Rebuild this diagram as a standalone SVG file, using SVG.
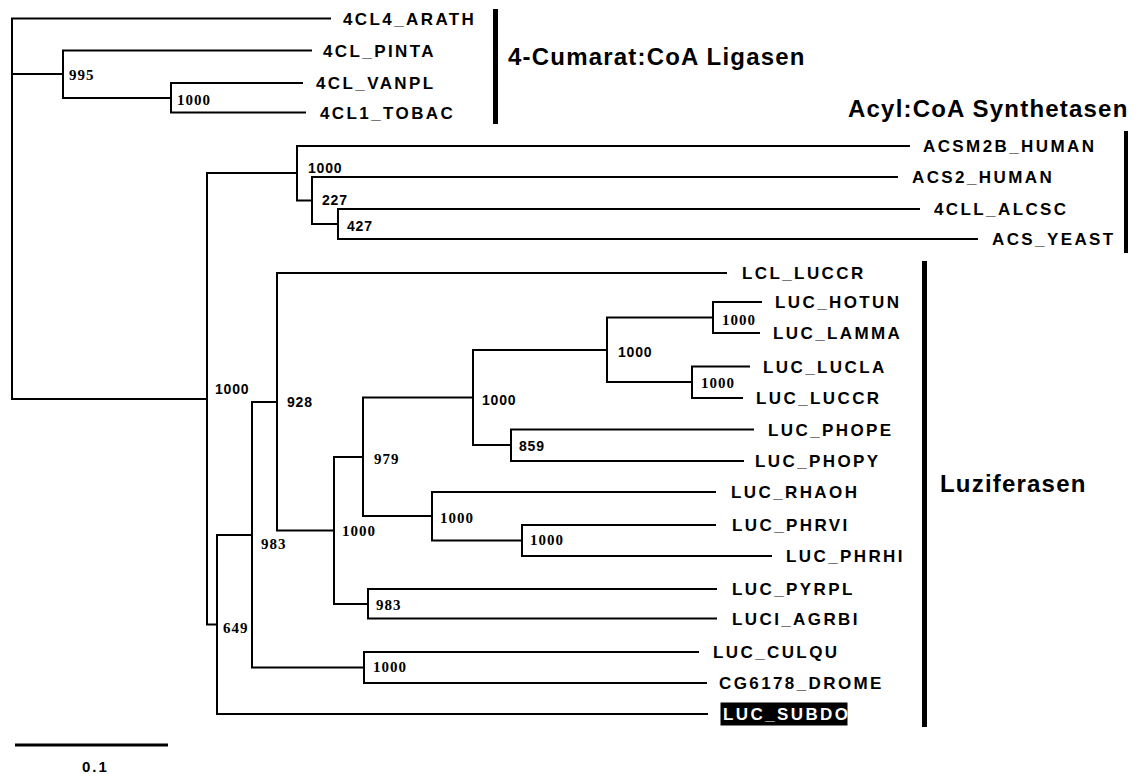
<svg xmlns="http://www.w3.org/2000/svg" width="1136" height="774" viewBox="0 0 1136 774">
<style>
.br{fill:none;stroke:#000;stroke-width:2;stroke-linecap:square}
.leaf{font-family:"Liberation Sans",Arial,sans-serif;font-weight:bold;font-size:17px;letter-spacing:2.4px;fill:#000}
.bs{font-family:"Liberation Sans",Arial,sans-serif;font-weight:bold;font-size:14px;letter-spacing:0.8px;fill:#000}
.bt{font-family:"Liberation Serif","Times New Roman",serif;font-weight:bold;font-size:15px;letter-spacing:1px;fill:#000}
.head{font-family:"Liberation Sans",Arial,sans-serif;font-weight:bold;font-size:24px;letter-spacing:1.2px;fill:#000}
.bar{fill:#000}
</style>
<rect width="1136" height="774" fill="#fff"/>
<g id="connectors" class="br">
<path d="M12 18.5V399M12 18.5H330M12 74H63M12 399H207"/>
<path d="M63 50.5V98M63 50.5H311M63 98H171"/>
<path d="M171 83V112.5M171 83H302M171 112.5H305"/>
<path d="M207 173V624.5M207 173H297M207 624.5H217"/>
<path d="M297 146V200.5M297 146H909M297 200.5H312"/>
<path d="M312 177V224M312 177H897M312 224H338"/>
<path d="M338 209V239M338 209H919M338 239H977"/>
<path d="M217 535V714M217 535H252M217 714H707"/>
<path d="M252 402V667.5M252 402H277M252 667.5H364"/>
<path d="M277 273V530.5M277 273H726M277 530.5H334"/>
<path d="M334 457V604M334 457H363M334 604H368"/>
<path d="M363 397.5V516M363 397.5H473M363 516H432"/>
<path d="M473 350V445M473 350H607M473 445H511"/>
<path d="M607 317.5V382M607 317.5H713M607 382H692"/>
<path d="M713 302V333M713 302H761M713 333H759"/>
<path d="M692 366.5V398M692 366.5H749M692 398H742"/>
<path d="M511 429.5V461M511 429.5H753M511 461H743"/>
<path d="M432 492V540.5M432 492H715M432 540.5H522"/>
<path d="M522 525V556M522 525H715M522 556H771"/>
<path d="M368 589V618.5M368 589H716M368 618.5H716"/>
<path d="M364 652V683M364 652H698M364 683H706"/>
</g>
<g id="leaf-4CL4_ARATH"><text class="leaf" x="343" y="24.5">4CL4_ARATH</text></g>
<g id="leaf-4CL_PINTA"><text class="leaf" x="323" y="56.5">4CL_PINTA</text></g>
<g id="leaf-4CL_VANPL"><text class="leaf" x="316" y="89">4CL_VANPL</text></g>
<g id="leaf-4CL1_TOBAC"><text class="leaf" x="320" y="118.5">4CL1_TOBAC</text></g>
<g id="leaf-ACSM2B_HUMAN"><text class="leaf" x="923" y="152">ACSM2B_HUMAN</text></g>
<g id="leaf-ACS2_HUMAN"><text class="leaf" x="912" y="183">ACS2_HUMAN</text></g>
<g id="leaf-4CLL_ALCSC"><text class="leaf" x="934" y="215">4CLL_ALCSC</text></g>
<g id="leaf-ACS_YEAST"><text class="leaf" x="992" y="245">ACS_YEAST</text></g>
<g id="leaf-LCL_LUCCR"><text class="leaf" x="742" y="279">LCL_LUCCR</text></g>
<g id="leaf-LUC_HOTUN"><text class="leaf" x="775" y="308">LUC_HOTUN</text></g>
<g id="leaf-LUC_LAMMA"><text class="leaf" x="773" y="339">LUC_LAMMA</text></g>
<g id="leaf-LUC_LUCLA"><text class="leaf" x="763" y="372.5">LUC_LUCLA</text></g>
<g id="leaf-LUC_LUCCR"><text class="leaf" x="756" y="404">LUC_LUCCR</text></g>
<g id="leaf-LUC_PHOPE"><text class="leaf" x="768" y="435.5">LUC_PHOPE</text></g>
<g id="leaf-LUC_PHOPY"><text class="leaf" x="755" y="467">LUC_PHOPY</text></g>
<g id="leaf-LUC_RHAOH"><text class="leaf" x="731" y="498">LUC_RHAOH</text></g>
<g id="leaf-LUC_PHRVI"><text class="leaf" x="732" y="531">LUC_PHRVI</text></g>
<g id="leaf-LUC_PHRHI"><text class="leaf" x="786" y="562">LUC_PHRHI</text></g>
<g id="leaf-LUC_PYRPL"><text class="leaf" x="732" y="595">LUC_PYRPL</text></g>
<g id="leaf-LUCI_AGRBI"><text class="leaf" x="732" y="624.5">LUCI_AGRBI</text></g>
<g id="leaf-LUC_CULQU"><text class="leaf" x="713" y="658">LUC_CULQU</text></g>
<g id="leaf-CG6178_DROME"><text class="leaf" x="719" y="689">CG6178_DROME</text></g>
<g id="leaf-LUC_SUBDO"><rect x="720.5" y="702.5" width="127" height="23" fill="#000"/><text class="leaf" x="723" y="720" style="fill:#fff">LUC_SUBDO</text></g>
<g id="support-values">
<text class="bt" x="69" y="80">995</text>
<text class="bt" x="177" y="105">1000</text>
<text class="bs" x="308" y="173">1000</text>
<text class="bs" x="322" y="205">227</text>
<text class="bs" x="347" y="231">427</text>
<text class="bs" x="215" y="394">1000</text>
<text class="bs" x="287" y="407">928</text>
<text class="bs" x="482" y="405">1000</text>
<text class="bs" x="519" y="451">859</text>
<text class="bt" x="374" y="464">979</text>
<text class="bs" x="618" y="357">1000</text>
<text class="bt" x="722" y="325">1000</text>
<text class="bt" x="701" y="388">1000</text>
<text class="bt" x="440" y="523">1000</text>
<text class="bt" x="342" y="536">1000</text>
<text class="bt" x="261" y="549">983</text>
<text class="bt" x="530" y="545">1000</text>
<text class="bt" x="376" y="610">983</text>
<text class="bt" x="223" y="633">649</text>
<text class="bt" x="373" y="672">1000</text>
</g>
<g id="clade-4cl">
<rect class="bar" x="493" y="9" width="5" height="115"/>
<text class="head" x="508" y="65">4-Cumarat:CoA Ligasen</text>
</g>
<g id="clade-acyl">
<rect class="bar" x="1124" y="131" width="4" height="122"/>
<text class="head" x="848" y="116.5">Acyl:CoA Synthetasen</text>
</g>
<g id="clade-luc">
<rect class="bar" x="922" y="261" width="5" height="466"/>
<text class="head" x="940" y="492">Luziferasen</text>
</g>
<g id="scale">
<rect class="bar" x="15" y="743.5" width="153" height="3"/>
<text x="82" y="771.5" style="font-family:'Liberation Sans',Arial,sans-serif;font-weight:bold;font-size:15px;letter-spacing:2px">0.1</text>
</g>
</svg>
